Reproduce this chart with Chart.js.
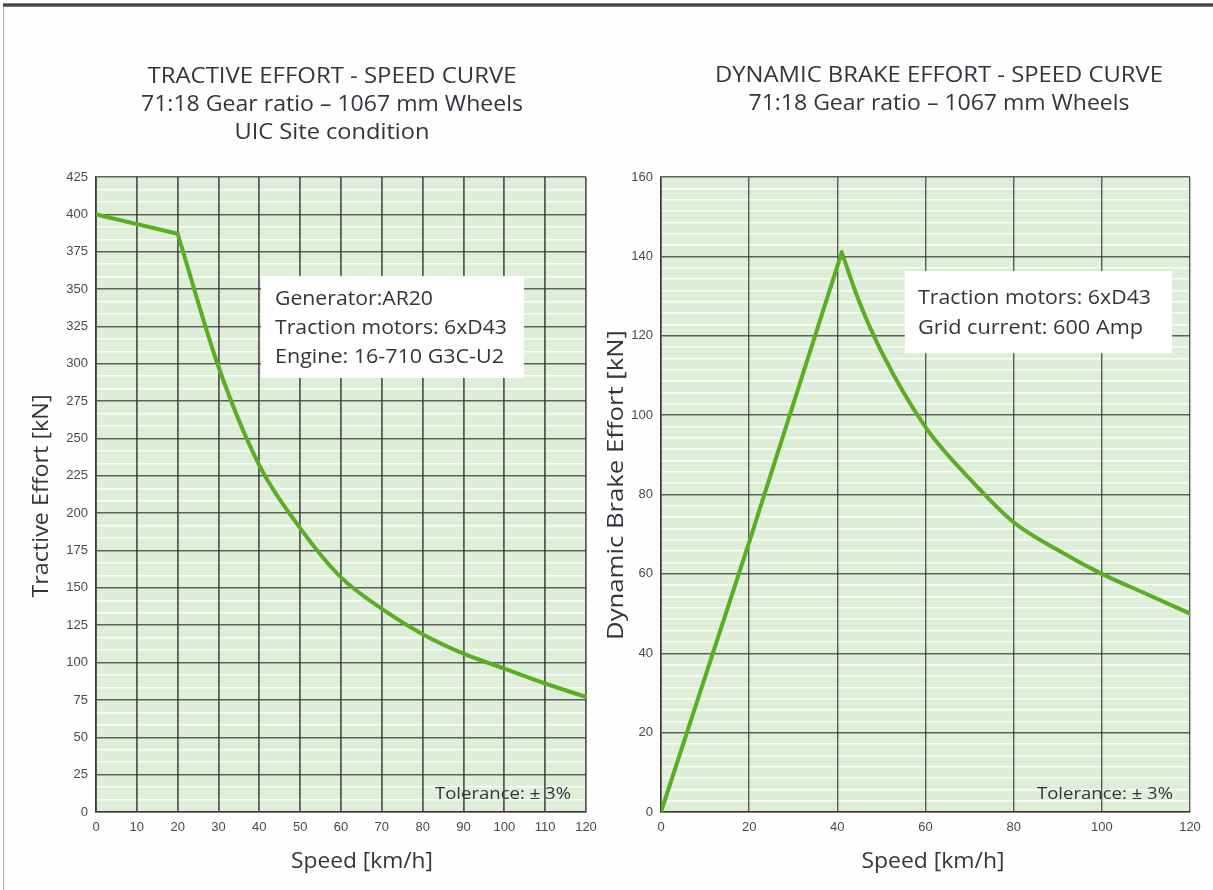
<!DOCTYPE html>
<html>
<head>
<meta charset="utf-8">
<script src="https://cdn.jsdelivr.net/npm/chart.js@4.4.1/dist/chart.umd.min.js"></script>
<style>
  html,body{margin:0;padding:0;background:#fefefe;width:1213px;height:890px;overflow:hidden;}
  #topbar{position:absolute;left:3px;top:3px;width:1210px;height:4px;background:linear-gradient(#9a9a9a,#2a2a2a 50%,#9a9a9a);}
  #leftline{position:absolute;left:3px;top:7px;width:1px;height:883px;background:#b0b0b0;}
  canvas{position:absolute;top:0;}
  #c1{left:0;}
  #c2{left:600px;}
</style>
</head>
<body>
<div id="topbar"></div>
<div id="leftline"></div>
<canvas id="c1" width="600" height="890"></canvas>
<canvas id="c2" width="613" height="890"></canvas>
<script>
// ---------- DATA ----------
const teSpeedStraight = [0, 20];
const teForceStraight = [400, 387];
const teSpeedCurve = [20, 30, 40, 50, 60, 70, 80, 90, 100, 110, 120];
const teForceCurve = [387, 298, 232, 190, 157, 136, 119, 106, 96, 86, 77];

const dbSpeedRise = [0, 20, 41];
const dbForceRise = [0, 68, 141];
const dbSpeedDecay = [41, 45, 50, 60, 70, 80, 90, 100, 110, 120];
const dbForceDecay = [141, 128.5, 116, 97, 84, 73, 66, 60, 55, 50];

const teTitle = ["TRACTIVE EFFORT - SPEED CURVE", "71:18 Gear ratio \u2013 1067 mm Wheels", "UIC Site condition"];
const dbTitle = ["DYNAMIC BRAKE EFFORT - SPEED CURVE", "71:18 Gear ratio \u2013 1067 mm Wheels"];
const teNote = ["Generator:AR20", "Traction motors: 6xD43", "Engine: 16-710 G3C-U2"];
const dbNote = ["Traction motors: 6xD43", "Grid current: 600 Amp"];
const xTitle = "Speed [km/h]";
const teYTitle = "Tractive Effort [kN]";
const dbYTitle = "Dynamic Brake Effort [kN]";
const tolerance = "Tolerance: \u00b1 3%";

// ---------- STYLE ----------
const LINE = '#5aae26';
const TXT = '#34343c';
const FONT = '"Open Sans", "Noto Sans", sans-serif';
const TICKFONT = {family: '"Liberation Sans", Arial, sans-serif', size: 13};

function pts(xs, ys){ return xs.map((x,i)=>({x, y: ys[i]})); }

function fitText(ctx, text, x, y, width, size, align){
  ctx.save();
  ctx.font = size + 'px ' + FONT;
  ctx.textBaseline = 'middle';
  ctx.textAlign = 'left';
  const w = ctx.measureText(text).width;
  const s = width / w;
  let x0 = x;
  if (align === 'center') x0 = x - width/2;
  ctx.translate(x0, y);
  ctx.scale(s, 1);
  ctx.fillText(text, 0, 0);
  ctx.restore();
}

function makePlugin(cfg){
  return {
    id: 'deco',
    beforeDraw(chart){
      const {ctx, chartArea:a} = chart;
      ctx.save();
      ctx.fillStyle = '#dfeed8';
      ctx.fillRect(a.left, a.top, a.right-a.left, a.bottom-a.top);
      ctx.restore();
    },
    beforeDatasetsDraw(chart){
      const {ctx, scales} = chart;
      const b = cfg.box;
      const x1 = scales.x.getPixelForValue(b.x0), x2 = scales.x.getPixelForValue(b.x1);
      const y1 = scales.y.getPixelForValue(b.y0), y2 = scales.y.getPixelForValue(b.y1);
      ctx.save();
      ctx.fillStyle = '#ffffff';
      ctx.fillRect(x1, y1, x2-x1, y2-y1);
      ctx.fillStyle = TXT;
      cfg.note.forEach((t,i)=> fitText(ctx, t, cfg.noteX, cfg.noteY[i], cfg.noteW[i], 20, 'left'));
      fitText(ctx, tolerance, cfg.tolX, cfg.tolY, cfg.tolW, 16, 'left');
      ctx.restore();
    },
    afterDraw(chart){
      const ctx = chart.ctx;
      ctx.save();
      ctx.fillStyle = TXT;
      cfg.title.forEach((t,i)=> fitText(ctx, t, cfg.titleX, cfg.titleY[i], cfg.titleW[i], 22, 'center'));
      fitText(ctx, xTitle, cfg.xtX, cfg.xtY, cfg.xtW, 22, 'center');
      ctx.save();
      ctx.translate(cfg.ytX, cfg.ytY);
      ctx.rotate(-Math.PI/2);
      fitText(ctx, cfg.yTitle, 0, 0, cfg.ytW, 22, 'center');
      ctx.restore();
      ctx.restore();
    }
  };
}

function makeChart(id, o){
  const ctx = document.getElementById(id).getContext('2d');
  return new Chart(ctx, {
    type: 'line',
    data: { datasets: o.datasets },
    options: {
      responsive: false,
      animation: false,
      layout: { padding: o.padding },
      plugins: { legend: {display:false}, tooltip: {enabled:false}, title: {display:false} },
      elements: { point: {radius: 0}, line: {borderWidth: 4, borderColor: LINE, borderCapStyle: 'round', borderJoinStyle: 'round'} },
      scales: {
        x: {
          type: 'linear', min: 0, max: 120,
          ticks: { stepSize: o.xStep, color: '#4a4a4a', font: TICKFONT, padding: 8, maxRotation: 0 },
          grid: { color: 'rgba(50,50,50,0.78)', lineWidth: o.vLineW, drawTicks: false, z: -1 },
          border: { display: true, color: 'rgba(50,50,50,0.85)', width: 1.6 },
          afterFit: s => { s.height = 30; s.paddingRight = 0; }
        },
        y: {
          type: 'linear', min: 0, max: o.yMax,
          ticks: { stepSize: o.yStep, color: '#4a4a4a', font: TICKFONT, padding: 8 },
          grid: { color: 'rgba(50,50,50,0.78)', lineWidth: 1.5, drawTicks: false, z: -1 },
          border: { display: true, color: 'rgba(50,50,50,0.85)', width: 1.6 },
          afterFit: s => { s.width = 40; }
        },
        ym: {
          type: 'linear', position: 'left', min: 0, max: o.minorMax, z: -3,
          ticks: { display: false, stepSize: 1 },
          grid: { color: 'rgba(255,255,255,0.8)', lineWidth: 1.5, drawTicks: false, z: -3 },
          border: { display: false },
          afterFit: s => { s.width = 0; }
        }
      }
    },
    plugins: [makePlugin(o.deco)]
  });
}

const ds = (data, mode) => ({ data, parsing: false, borderColor: LINE, borderWidth: 4, fill: false, pointRadius: 0,
  cubicInterpolationMode: mode, tension: mode === 'monotone' ? 0.4 : 0 });

makeChart('c1', {
  datasets: [ ds(pts(teSpeedStraight, teForceStraight), 'default'), ds(pts(teSpeedCurve, teForceCurve), 'monotone') ],
  padding: {left: 56, right: 14, top: 177, bottom: 48},
  xStep: 10, yStep: 25, yMax: 425, minorMax: 51, vLineW: 1.8,
  deco: {
    box: {x0: 40.4, x1: 104.8, y0: 358.8, y1: 290.5},
    note: teNote, noteX: 275, noteY: [299, 328, 357], noteW: [158, 232, 229],
    tolX: 435, tolY: 794, tolW: 136,
    title: teTitle, titleX: 332, titleY: [77, 105, 133], titleW: [369, 382, 195],
    xtX: 362, xtY: 862, xtW: 142,
    yTitle: teYTitle, ytX: 42, ytY: 496, ytW: 203
  }
});

makeChart('c2', {
  datasets: [ ds(pts(dbSpeedRise, dbForceRise), 'default'), ds(pts(dbSpeedDecay, dbForceDecay), 'monotone') ],
  padding: {left: 21, right: 23, top: 177, bottom: 48},
  xStep: 20, yStep: 20, yMax: 160, minorMax: 56, vLineW: 1.4,
  deco: {
    box: {x0: 55.3, x1: 115.9, y0: 136.3, y1: 115.6},
    note: dbNote, noteX: 318, noteY: [298, 328], noteW: [233, 225],
    tolX: 437, tolY: 794, tolW: 136,
    title: dbTitle, titleX: 339, titleY: [76, 104], titleW: [448, 381],
    xtX: 333, xtY: 862, xtW: 143,
    yTitle: dbYTitle, ytX: 17, ytY: 485, ytW: 310
  }
});
</script>
</body>
</html>
